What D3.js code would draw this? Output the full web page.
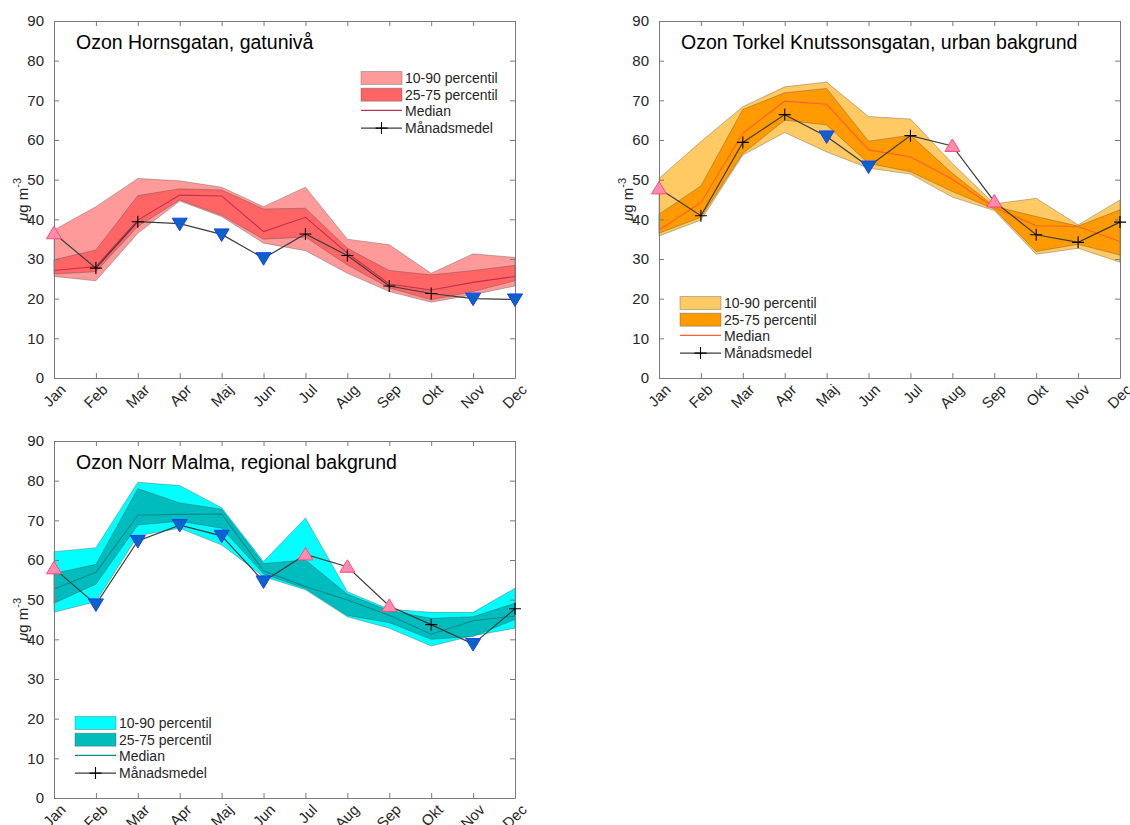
<!DOCTYPE html>
<html>
<head>
<meta charset="utf-8">
<script src="https://cdn.jsdelivr.net/npm/d3@7"></script>
<style>
  body { margin: 0; background: #fff; }
  svg { display: block; font-family: "Liberation Sans", Arial, Helvetica, sans-serif; }
</style>
</head>
<body>
<svg id="chart" width="1130" height="825"></svg>
<script>
// ---------- data ----------
const months = ["Jan","Feb","Mar","Apr","Maj","Jun","Jul","Aug","Sep","Okt","Nov","Dec"];
const yTicks = [0,10,20,30,40,50,60,70,80,90];
const legendLabels = ["10-90 percentil","25-75 percentil","Median","Månadsmedel"];

// Hornsgatan
const hornsP10    = [25.6, 24.5, 36.5, 44.6, 40.7, 34.0, 32.1, 26.4, 21.8, 19.1, 21.0, 23.2];
const hornsP25    = [26.2, 26.8, 38.2, 44.9, 41.0, 35.0, 35.5, 28.5, 22.7, 19.7, 21.8, 24.5];
const hornsMedian = [27.1, 28.1, 39.8, 46.1, 45.9, 36.9, 40.5, 31.5, 23.7, 22.2, 24.1, 25.6];
const hornsP75    = [29.8, 32.3, 46.0, 47.7, 47.4, 42.6, 42.8, 32.7, 27.1, 26.0, 27.1, 28.4];
const hornsP90    = [37.3, 43.2, 50.3, 49.7, 48.1, 43.2, 48.1, 35.0, 33.6, 26.4, 31.3, 30.4];
const hornsMean   = [36.5, 27.7, 39.4, 38.9, 36.2, 30.2, 36.3, 30.9, 23.2, 21.3, 20.0, 19.8];
const hornsFlag   = [1, 0, 0, -1, -1, -1, 0, 0, 0, 0, -1, -1];

// Torkel Knutssonsgatan
const torkelP10    = [35.8, 39.8, 56.2, 61.9, 57.0, 52.9, 51.4, 45.6, 42.2, 31.2, 32.7, 29.2];
const torkelP25    = [36.5, 40.5, 56.6, 65.0, 63.8, 54.1, 52.0, 47.0, 42.6, 31.9, 33.7, 31.0];
const torkelMedian = [37.3, 44.2, 61.7, 69.8, 69.0, 57.5, 55.8, 50.1, 43.0, 38.4, 38.2, 34.4];
const torkelP75    = [41.3, 48.4, 67.7, 71.9, 73.0, 59.7, 61.2, 51.6, 43.3, 40.7, 38.3, 42.4];
const torkelP90    = [50.3, 59.6, 68.4, 73.4, 74.6, 65.9, 65.3, 54.1, 43.9, 45.3, 38.6, 44.9];
const torkelMean   = [47.8, 40.9, 59.4, 66.4, 60.9, 53.3, 61.1, 58.5, 44.5, 36.1, 34.2, 39.3];
const torkelFlag   = [1, 0, 0, 0, -1, -1, 0, 1, 1, 0, 0, 0];

// Norr Malma
const malmaP10    = [46.8, 49.5, 66.1, 68.0, 63.8, 55.8, 52.5, 45.7, 42.8, 38.3, 40.9, 42.8];
const malmaP25    = [49.1, 53.9, 68.8, 69.8, 68.0, 56.5, 52.8, 46.0, 44.2, 40.0, 40.7, 45.0];
const malmaMedian = [52.7, 56.9, 71.3, 71.5, 71.6, 57.3, 53.3, 49.9, 46.1, 41.3, 44.7, 45.9];
const malmaP75    = [56.6, 58.9, 78.0, 74.4, 72.8, 59.1, 60.0, 51.4, 47.2, 45.3, 45.7, 49.1];
const malmaP90    = [62.1, 63.1, 79.6, 78.8, 73.2, 59.6, 70.6, 52.0, 47.6, 46.8, 46.8, 52.9];
const malmaMean   = [57.9, 48.8, 64.8, 68.8, 66.1, 54.6, 61.4, 58.3, 48.4, 43.7, 38.8, 47.7];
const malmaFlag   = [1, -1, -1, -1, -1, -1, 1, 1, 1, 0, -1, 0];

// ---------- panels ----------
const panels = [
  { title: "Ozon Hornsgatan, gatunivå", left: 54, top: 21,
    p10: hornsP10, p25: hornsP25, med: hornsMedian, p75: hornsP75, p90: hornsP90, mean: hornsMean, flag: hornsFlag,
    outer: "#ff9a9a", inner: "#ff6565", medColor: "#c0304f", legendX: 307, legendY: 57 },
  { title: "Ozon Torkel Knutssonsgatan, urban bakgrund", left: 659, top: 21,
    p10: torkelP10, p25: torkelP25, med: torkelMedian, p75: torkelP75, p90: torkelP90, mean: torkelMean, flag: torkelFlag,
    outer: "#ffc964", inner: "#ff9a00", medColor: "#ff6030", legendX: 21, legendY: 282 },
  { title: "Ozon Norr Malma, regional bakgrund", left: 54, top: 441,
    p10: malmaP10, p25: malmaP25, med: malmaMedian, p75: malmaP75, p90: malmaP90, mean: malmaMean, flag: malmaFlag,
    outer: "#00ffff", inner: "#00bcbc", medColor: "#008a8e", legendX: 21, legendY: 282 }
];

const W = 461, H = 357;
const svg = d3.select("#chart");
const axisColor = "#7a7a7a";
const textColor = "#262626";
const edgeColor = "rgba(70,70,70,0.35)";

const x = d3.scalePoint().domain(months).range([0, W]);
const y = d3.scaleLinear().domain([0, 90]).range([H, 0]);

panels.forEach(p => {
  const g = svg.append("g").attr("transform", `translate(${p.left},${p.top})`);
  const idx = d3.range(months.length);

  const band = (lo, hi) => d3.area()
    .x(i => x(months[i])).y0(i => y(lo[i])).y1(i => y(hi[i]))(idx);
  const line = arr => d3.line().x(i => x(months[i])).y(i => y(arr[i]))(idx);

  // bands
  g.append("path").attr("d", band(p.p10, p.p90))
    .attr("fill", p.outer).attr("stroke", edgeColor).attr("stroke-width", 1);
  g.append("path").attr("d", band(p.p25, p.p75))
    .attr("fill", p.inner).attr("stroke", edgeColor).attr("stroke-width", 1);
  // median
  g.append("path").attr("d", line(p.med)).attr("fill", "none")
    .attr("stroke", p.medColor).attr("stroke-width", 1.1);

  // axes frame
  const yAxisL = d3.axisLeft(y).tickValues(yTicks).tickSizeInner(-5).tickSizeOuter(0).tickPadding(10);
  const yAxisR = d3.axisRight(y).tickValues(yTicks).tickSizeInner(-5).tickSizeOuter(0).tickFormat("");
  const xAxisB = d3.axisBottom(x).tickSizeInner(-5).tickSizeOuter(0).tickFormat("");
  const xAxisT = d3.axisTop(x).tickSizeInner(-5).tickSizeOuter(0).tickFormat("");

  const styleAxis = sel => {
    sel.selectAll("path.domain").attr("stroke", axisColor);
    sel.selectAll(".tick line").attr("stroke", axisColor);
    sel.selectAll(".tick text").attr("fill", textColor).style("font-size", "15px")
      .style("font-family", '"Liberation Sans", Arial, sans-serif');
  };
  g.append("g").call(yAxisL).call(styleAxis);
  g.append("g").attr("transform", `translate(${W},0)`).call(yAxisR).call(styleAxis);
  g.append("g").attr("transform", `translate(0,${H})`).call(xAxisB).call(styleAxis);
  g.append("g").call(xAxisT).call(styleAxis);

  // rotated month labels
  g.append("g").selectAll("text").data(months).join("text")
    .attr("transform", d => `translate(${x(d) + 9},${H + 9}) rotate(-45)`)
    .attr("text-anchor", "end").attr("dy", "0.35em")
    .attr("fill", textColor).style("font-size", "15px")
    .text(d => d);

  // y label
  const yl = g.append("text")
    .attr("transform", `translate(-26,${H / 2}) rotate(-90)`)
    .attr("text-anchor", "middle").attr("fill", textColor).style("font-size", "15px");
  yl.append("tspan").style("font-style", "italic").text("μ");
  yl.append("tspan").text("g m");
  yl.append("tspan").attr("dy", "-0.6em").style("font-size", "11px").text("-3");

  // title
  g.append("text").attr("x", 22).attr("y", 28).attr("fill", "#000")
    .style("font-size", "19.5px").text(p.title);

  // mean line
  g.append("path").attr("d", line(p.mean)).attr("fill", "none")
    .attr("stroke", "#3c3c3c").attr("stroke-width", 1.2);
  // plus markers
  const pm = g.append("g");
  idx.filter(i => p.flag[i] === 0).forEach(i => {
    const cx = x(months[i]), cy = y(p.mean[i]);
    pm.append("path").attr("d", `M${cx - 6},${cy}H${cx + 6}M${cx},${cy - 6}V${cy + 6}`)
      .attr("stroke", "#000").attr("stroke-width", 1.1);
  });
  // triangles
  idx.filter(i => p.flag[i] !== 0).forEach(i => {
    const cx = x(months[i]), cy = y(p.mean[i]);
    const up = p.flag[i] > 0;
    const d = up
      ? `M${cx},${cy - 7}L${cx + 7.5},${cy + 5.5}L${cx - 7.5},${cy + 5.5}Z`
      : `M${cx},${cy + 7}L${cx + 7.5},${cy - 5.5}L${cx - 7.5},${cy - 5.5}Z`;
    g.append("path").attr("d", d)
      .attr("fill", up ? "#ff8cae" : "#0a63c8")
      .attr("stroke", up ? "#ff4a78" : "#1c3cff").attr("stroke-width", 1);
  });

  // legend
  const lg = g.append("g").attr("transform", `translate(${p.legendX},${p.legendY})`);
  const rowH = 16.7;
  lg.append("rect").attr("x", 0).attr("y", -6.5).attr("width", 41).attr("height", 13)
    .attr("fill", p.outer).attr("stroke", edgeColor);
  lg.append("rect").attr("x", 0).attr("y", rowH - 6.5).attr("width", 41).attr("height", 13)
    .attr("fill", p.inner).attr("stroke", edgeColor);
  lg.append("line").attr("x1", 0).attr("x2", 41).attr("y1", 2 * rowH - 1).attr("y2", 2 * rowH - 1)
    .attr("stroke", p.medColor).attr("stroke-width", 1.2);
  lg.append("line").attr("x1", 0).attr("x2", 41).attr("y1", 3 * rowH).attr("y2", 3 * rowH)
    .attr("stroke", "#3c3c3c").attr("stroke-width", 1.2);
  lg.append("path").attr("d", `M${20.5 - 6},${3 * rowH}H${20.5 + 6}M20.5,${3 * rowH - 6}V${3 * rowH + 6}`)
    .attr("stroke", "#000").attr("stroke-width", 1.1);
  lg.selectAll("text.lab").data(legendLabels).join("text").attr("class", "lab")
    .attr("x", 44).attr("y", (d, i) => i * rowH).attr("dy", "0.35em")
    .attr("fill", textColor).style("font-size", "14px").text(d => d);
});
</script>
</body>
</html>
